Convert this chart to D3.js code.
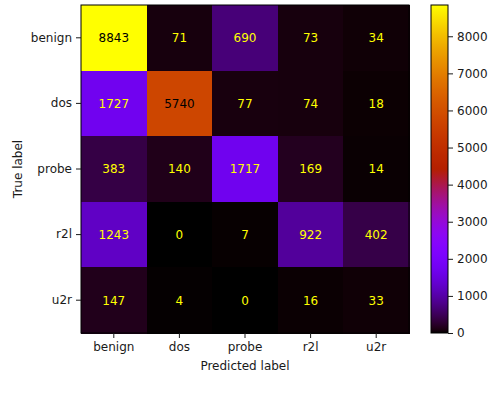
<!DOCTYPE html>
<meta charset="utf-8">
<script src="https://d3js.org/d3.v7.min.js"></script>
<style>
  body { margin: 0; background: #fff; }
  text { font-family: "DejaVu Sans", sans-serif; fill: #1a1a1a; }
</style>
<div id="chart"></div>
<script>
// labels and counts (rows = true, cols = predicted)
var labels = ["benign", "dos", "probe", "r2l", "u2r"];
var matrix = [
  [8843, 71, 690, 73, 34],
  [1727, 5740, 77, 74, 18],
  [383, 140, 1717, 169, 14],
  [1243, 0, 7, 922, 402],
  [147, 4, 0, 16, 33]
];
var cbTicks = [0, 1000, 2000, 3000, 4000, 5000, 6000, 7000, 8000];

// gnuplot colormap from matplotlib
function gnuplot(t) {
  t = Math.max(0, Math.min(1, t));
  var r = Math.sqrt(t), g = Math.pow(t, 3), b = Math.max(0, Math.min(1, Math.sin(2 * Math.PI * t)));
  return d3.rgb(r * 255, g * 255, b * 255).toString();
}

var W = 490, H = 396;
var svg = d3.select("#chart").append("svg").attr("width", W).attr("height", H);

var plotLeft = 81, plotTop = 5, size = 328;
var flat = matrix.flat();
var vmin = d3.min(flat), vmax = d3.max(flat);
var color = function (v) { return gnuplot((v - vmin) / (vmax - vmin)); };

var x = d3.scaleBand().domain(labels).range([plotLeft, plotLeft + size]);
var y = d3.scaleBand().domain(labels).range([plotTop, plotTop + size]);

var cells = [];
matrix.forEach(function (row, i) {
  row.forEach(function (v, j) { cells.push({ t: labels[i], p: labels[j], v: v }); });
});

svg.selectAll("rect.cell").data(cells).enter().append("rect")
  .attr("class", "cell")
  .attr("x", function (d) { return x(d.p); })
  .attr("y", function (d) { return y(d.t); })
  .attr("width", x.bandwidth() + 1)
  .attr("height", y.bandwidth() + 1)
  .attr("shape-rendering", "crispEdges")
  .attr("fill", function (d) { return color(d.v); });

var thresh = (vmax + vmin) / 2;
svg.selectAll("text.val").data(cells).enter().append("text")
  .attr("class", "val")
  .attr("x", function (d) { return x(d.p) + x.bandwidth() / 2; })
  .attr("y", function (d) { return y(d.t) + y.bandwidth() / 2; })
  .attr("text-anchor", "middle")
  .attr("dy", "0.36em")
  .style("font-size", "12px")
  .style("fill", function (d) { return d.v < thresh ? gnuplot(1) : gnuplot(0); })
  .text(function (d) { return d.v; });

svg.append("rect").attr("x", plotLeft).attr("y", plotTop).attr("width", size).attr("height", size)
  .attr("fill", "none").attr("stroke", "#000").attr("stroke-width", 1);

var xAxis = svg.append("g").attr("transform", "translate(0," + (plotTop + size) + ")")
  .call(d3.axisBottom(x).tickSize(5).tickPadding(4));
var yAxis = svg.append("g").attr("transform", "translate(" + plotLeft + ",0)")
  .call(d3.axisLeft(y).tickSize(5).tickPadding(4));
[xAxis, yAxis].forEach(function (a) {
  a.select(".domain").remove();
  a.selectAll("text").style("font-size", "12px").style("fill", "#1a1a1a").style("font-family", "DejaVu Sans, sans-serif");
  a.selectAll("line").attr("stroke", "#1a1a1a");
});

svg.append("text").attr("x", plotLeft + size / 2).attr("y", 370).attr("text-anchor", "middle")
  .style("font-size", "12px").text("Predicted label");
svg.append("text").attr("transform", "translate(22," + (plotTop + size / 2) + ") rotate(-90)")
  .attr("text-anchor", "middle").style("font-size", "12px").text("True label");

// colorbar
var cbX = 431, cbW = 17;
var grad = svg.append("defs").append("linearGradient").attr("id", "cb")
  .attr("x1", 0).attr("y1", 1).attr("x2", 0).attr("y2", 0);
d3.range(0, 101).forEach(function (i) {
  grad.append("stop").attr("offset", i + "%").attr("stop-color", gnuplot(i / 100));
});
svg.append("rect").attr("x", cbX).attr("y", plotTop).attr("width", cbW).attr("height", size)
  .attr("fill", "url(#cb)").attr("stroke", "#000").attr("stroke-width", 1);

var cy = d3.scaleLinear().domain([vmin, vmax]).range([plotTop + size, plotTop]);
var cAxis = svg.append("g").attr("transform", "translate(" + (cbX + cbW) + ",0)")
  .call(d3.axisRight(cy).tickValues(cbTicks).tickFormat(d3.format("d")).tickSize(5).tickPadding(4));
cAxis.select(".domain").remove();
cAxis.selectAll("text").style("font-size", "12px").style("fill", "#1a1a1a").style("font-family", "DejaVu Sans, sans-serif");
cAxis.selectAll("line").attr("stroke", "#1a1a1a");
</script>
